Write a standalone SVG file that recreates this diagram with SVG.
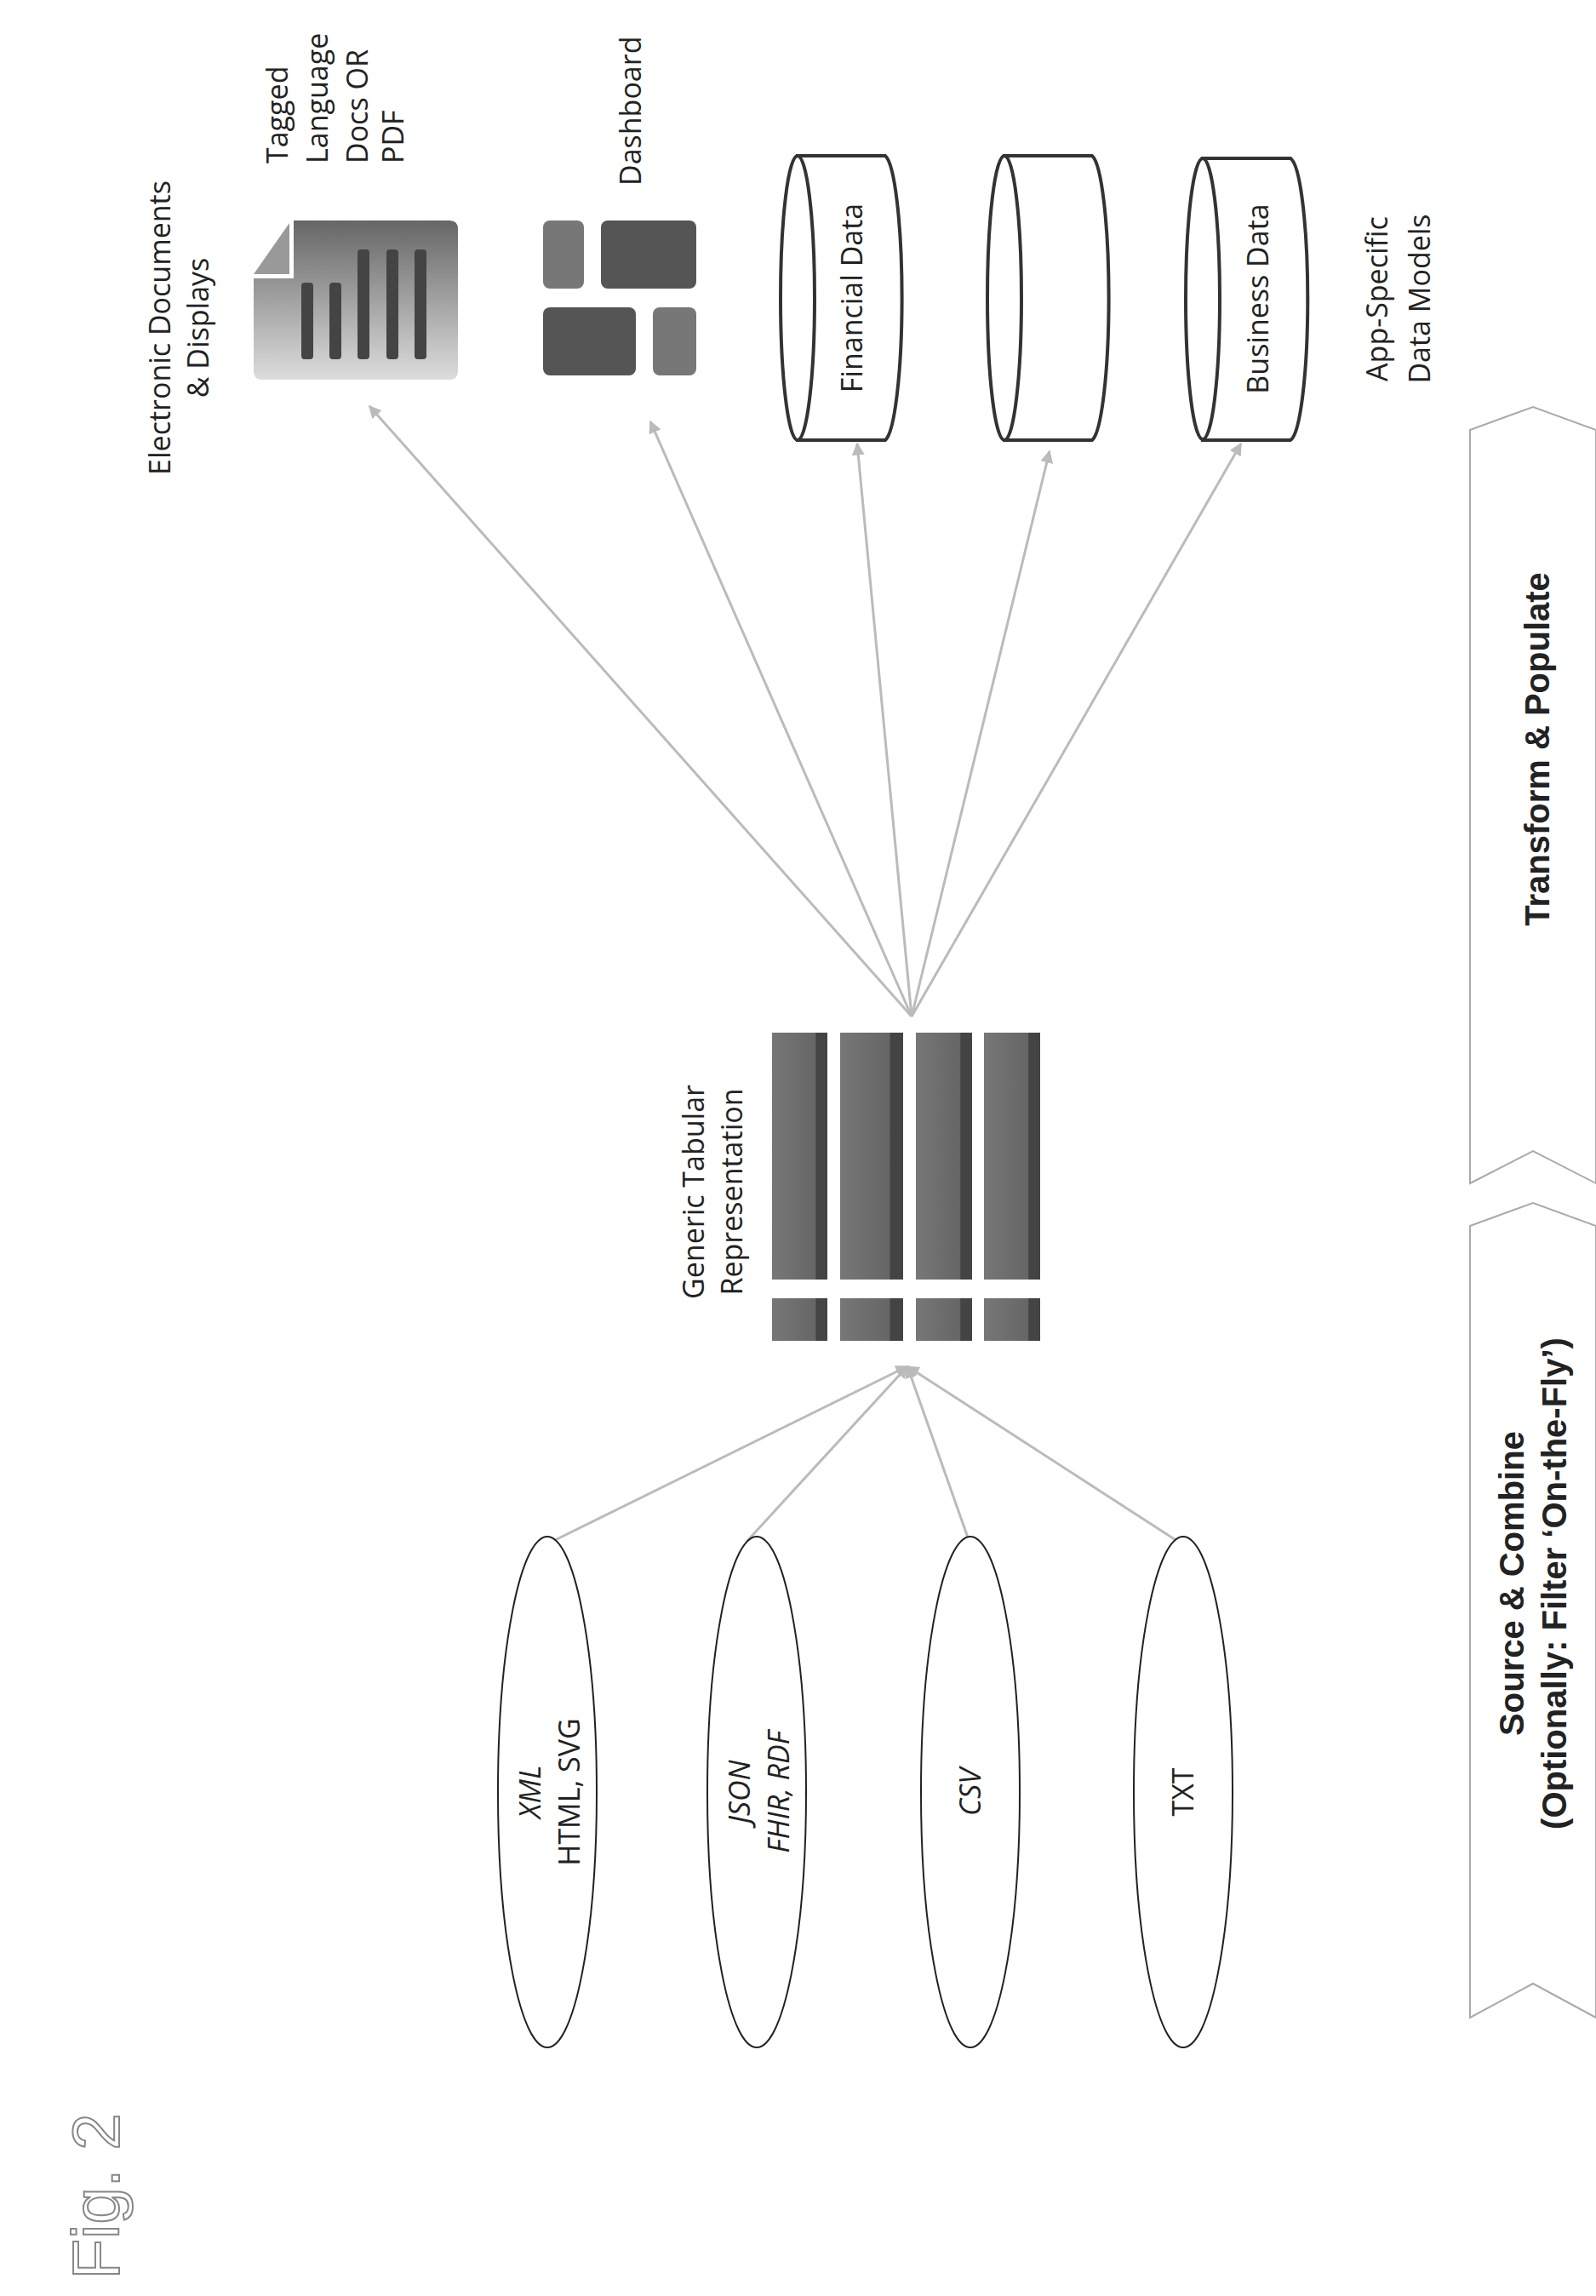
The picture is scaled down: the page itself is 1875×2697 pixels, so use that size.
<svg xmlns="http://www.w3.org/2000/svg" width="1875" height="2697" viewBox="0 0 1875 2697">
<style>
.t{font-family:"Open Sans","DejaVu Sans",sans-serif;font-size:34px;fill:#222}
.b{font-family:"Liberation Sans",Arial,sans-serif;font-weight:bold;font-size:40px;fill:#222}
.c{fill:none;stroke:#bbb;stroke-width:3}
.cyl{fill:#fff;stroke:#333;stroke-width:4}
.chev{fill:#fff;stroke:#aaa;stroke-width:2}
</style>
<defs>
<marker id="ah" viewBox="0 0 10 10" refX="9" refY="5" markerWidth="5" markerHeight="5" orient="auto"><path d="M0,0L10,5L0,10z" fill="#bbb"/></marker>
<linearGradient id="bar" x1="0" x2="1" y1="0" y2="0"><stop offset="0" stop-color="#777"/><stop offset="0.78" stop-color="#666"/><stop offset="0.8" stop-color="#444"/><stop offset="1" stop-color="#444"/></linearGradient>
<linearGradient id="page" x1="0" x2="0" y1="1" y2="0"><stop offset="0" stop-color="#ddd"/><stop offset="1" stop-color="#666"/></linearGradient>
</defs>
<text transform="translate(140,2580) rotate(-90)" text-anchor="middle" font-family="Liberation Sans,Arial,sans-serif" font-size="78" fill="#fff" stroke="#888" stroke-width="2">Fig. 2</text>
<g id="connectors">
<line class="c" x1="642" y1="1814" x2="1066" y2="1605" marker-end="url(#ah)"/>
<line class="c" x1="877" y1="1811" x2="1066" y2="1605" marker-end="url(#ah)"/>
<line class="c" x1="1137" y1="1806" x2="1066" y2="1605" marker-end="url(#ah)"/>
<line class="c" x1="1389" y1="1814" x2="1066" y2="1605" marker-end="url(#ah)"/>
<line class="c" x1="1071" y1="1194" x2="434" y2="477" marker-end="url(#ah)"/>
<line class="c" x1="1071" y1="1194" x2="764" y2="495" marker-end="url(#ah)"/>
<line class="c" x1="1071" y1="1194" x2="1007" y2="521" marker-end="url(#ah)"/>
<line class="c" x1="1071" y1="1194" x2="1233" y2="530" marker-end="url(#ah)"/>
<line class="c" x1="1071" y1="1194" x2="1458" y2="521" marker-end="url(#ah)"/>
</g>
<g id="xml"><ellipse cx="643" cy="2105" rx="58" ry="300" fill="#fff" stroke="#222" stroke-width="2"/>
<text class="t" transform="translate(643,2105) rotate(-90)" text-anchor="middle" font-size="36"><tspan x="0" y="-8" font-style="italic">XML</tspan><tspan x="0" y="38">HTML, SVG</tspan></text></g>
<g id="json"><ellipse cx="889" cy="2105" rx="58" ry="300" fill="#fff" stroke="#222" stroke-width="2"/>
<text class="t" transform="translate(889,2105) rotate(-90)" text-anchor="middle" font-style="italic" font-size="36"><tspan x="0" y="-8">JSON</tspan><tspan x="0" y="38">FHIR, RDF</tspan></text></g>
<g id="csv"><ellipse cx="1140" cy="2105" rx="58" ry="300" fill="#fff" stroke="#222" stroke-width="2"/>
<text class="t" transform="translate(1140,2105) rotate(-90)" text-anchor="middle" font-style="italic" font-size="36" y="12">CSV</text></g>
<g id="txt"><ellipse cx="1390" cy="2105" rx="58" ry="300" fill="#fff" stroke="#222" stroke-width="2"/>
<text class="t" transform="translate(1390,2105) rotate(-90)" text-anchor="middle" font-size="36" y="12">TXT</text></g>
<g id="table">
<text class="t" transform="translate(0,1400) rotate(-90)" text-anchor="middle" font-size="32"><tspan x="0" y="827">Generic Tabular</tspan><tspan x="0" y="872">Representation</tspan></text>
<rect x="907" y="1213" width="65" height="290" fill="url(#bar)"/>
<rect x="987" y="1213" width="74" height="290" fill="url(#bar)"/>
<rect x="1076" y="1213" width="66" height="290" fill="url(#bar)"/>
<rect x="1156" y="1213" width="66" height="290" fill="url(#bar)"/>
<rect x="907" y="1525" width="65" height="50" fill="url(#bar)"/>
<rect x="987" y="1525" width="74" height="50" fill="url(#bar)"/>
<rect x="1076" y="1525" width="66" height="50" fill="url(#bar)"/>
<rect x="1156" y="1525" width="66" height="50" fill="url(#bar)"/>
</g>
<g id="electronic"><text class="t" transform="translate(0,385) rotate(-90)" text-anchor="middle"><tspan x="0" y="200">Electronic Documents</tspan><tspan x="0" y="245">&amp; Displays</tspan></text></g>
<g id="tagged">
<text class="t" transform="translate(0,192) rotate(-90)" text-anchor="start"><tspan x="0" y="338">Tagged</tspan><tspan x="0" y="385">Language</tspan><tspan x="0" y="432">Docs OR</tspan><tspan x="0" y="474">PDF</tspan></text>
<path d="M345,259 H528 Q538,259 538,269 V436 Q538,446 528,446 H308 Q298,446 298,436 V327 H345 Z" fill="url(#page)"/>
<path d="M298,322 L340,262 L340,322 Z" fill="#999"/>
<rect x="354" y="332" width="14" height="90" rx="4" fill="#444"/>
<rect x="387" y="332" width="14" height="90" rx="4" fill="#444"/>
<rect x="420" y="293" width="14" height="129" rx="4" fill="#444"/>
<rect x="454" y="293" width="14" height="129" rx="4" fill="#444"/>
<rect x="487" y="293" width="14" height="129" rx="4" fill="#444"/>
</g>
<g id="dashboard">
<text class="t" transform="translate(753,218) rotate(-90)" text-anchor="start">Dashboard</text>
<rect x="638" y="259" width="48" height="80" rx="8" fill="#777"/>
<rect x="706" y="259" width="112" height="80" rx="8" fill="#555"/>
<rect x="638" y="361" width="109" height="80" rx="8" fill="#555"/>
<rect x="767" y="361" width="51" height="80" rx="8" fill="#777"/>
</g>
<g id="financial">
<path class="cyl" d="M937,183 H1040 A22,168 0 0 1 1040,517 H937 Z"/>
<ellipse class="cyl" cx="937" cy="350" rx="20" ry="167"/>
<text class="t" transform="translate(1013,350) rotate(-90)" text-anchor="middle">Financial Data</text>
</g>
<g id="middle-db">
<path class="cyl" d="M1180,183 H1283 A22,168 0 0 1 1283,517 H1180 Z"/>
<ellipse class="cyl" cx="1180" cy="350" rx="20" ry="167"/>
</g>
<g id="business">
<path class="cyl" d="M1413,186 H1516 A22,166 0 0 1 1516,517 H1413 Z"/>
<ellipse class="cyl" cx="1413" cy="351" rx="20" ry="165"/>
<text class="t" transform="translate(1490,351) rotate(-90)" text-anchor="middle">Business Data</text>
</g>
<g id="appspecific"><text class="t" transform="translate(0,351) rotate(-90)" text-anchor="middle"><tspan x="0" y="1630">App-Specific</tspan><tspan x="0" y="1680">Data Models</tspan></text></g>
<g id="transform">
<polygon class="chev" points="1727,505 1801,478 1875,505 1875,1390 1801,1352 1727,1390"/>
<text class="b" transform="translate(1820,880) rotate(-90)" text-anchor="middle">Transform &amp; Populate</text>
</g>
<g id="source">
<polygon class="chev" points="1727,1440 1801,1413 1875,1440 1875,2370 1801,2330 1727,2370"/>
<text class="b" transform="translate(0,1860) rotate(-90)" text-anchor="middle"><tspan x="0" y="1790">Source &amp; Combine</tspan><tspan x="0" y="1840">(Optionally: Filter ‘On-the-Fly’)</tspan></text>
</g>
</svg>
